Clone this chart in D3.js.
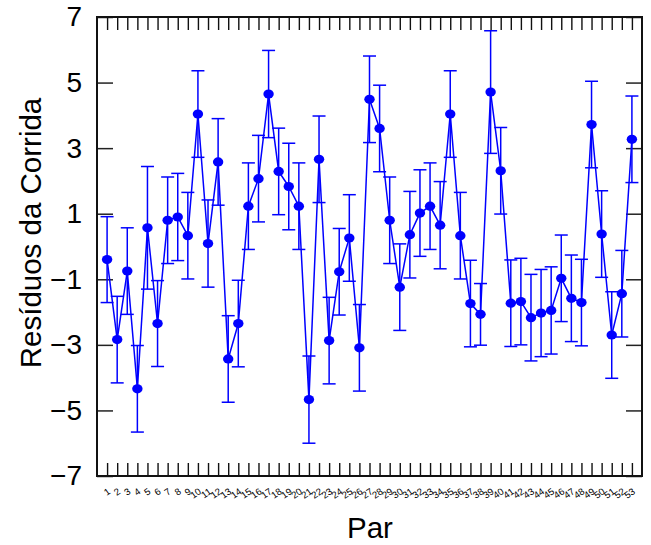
<!DOCTYPE html>
<html>
<head>
<meta charset="utf-8">
<script src="https://cdn.jsdelivr.net/npm/d3@7"></script>
<style>
body { margin: 0; background: #fff; }
svg { display: block; }
</style>
</head>
<body>
<div id="chart"></div>
<script>
// residuos por par, com barra de erro (+/-)
var pares = d3.range(1, 54);
var residuos = [-0.40, -2.84, -0.75, -4.34, 0.57, -2.35, 0.80, 0.90, 0.33, 4.04,
    0.09, 2.58, -3.43, -2.35, 1.23, 2.07, 4.65, 2.29, 1.83, 1.23,
    -4.67, 2.66, -2.87, -0.77, 0.26, -3.09, 4.49, 3.60, 0.80, -1.24,
    0.36, 1.02, 1.23, 0.65, 4.04, 0.33, -1.74, -2.07, 4.71, 2.31,
    -1.73, -1.68, -2.17, -2.03, -1.95, -0.97, -1.58, -1.71, 3.72, 0.38,
    -2.70, -1.44, 3.27];
var erros = [1.31, 1.32, 1.32, 1.32, 1.87, 1.31, 1.32, 1.33, 1.32, 1.32,
    1.33, 1.32, 1.32, 1.32, 1.32, 1.32, 1.33, 1.32, 1.32, 1.32,
    1.33, 1.32, 1.32, 1.32, 1.32, 1.32, 1.32, 1.32, 1.32, 1.32,
    1.32, 1.32, 1.32, 1.33, 1.32, 1.32, 1.32, 0.94, 1.87, 1.32,
    1.32, 1.32, 1.32, 1.33, 1.33, 1.32, 1.32, 1.32, 1.32, 1.32,
    1.32, 1.32, 1.32];
var yTicks = [-7, -5, -3, -1, 1, 3, 5, 7];

var W = 651, H = 545;
var margin = {left: 97, right: 9, top: 17, bottom: 69};
var azul = "#0000ff";
var fonte = "Liberation Sans, Arial, sans-serif";

var svg = d3.select("#chart").append("svg")
    .attr("width", W).attr("height", H);

var x = d3.scaleLinear().domain([0, 54]).range([margin.left, W - margin.right]);
var y = d3.scaleLinear().domain([-7, 7]).range([H - margin.bottom, margin.top]);

var dados = pares.map(function(p, i) {
    return {par: p, v: residuos[i], e: erros[i]};
});

// ticks do eixo x (embaixo e em cima, para dentro)
svg.append("g")
    .attr("transform", "translate(0," + y(-7) + ")")
    .call(d3.axisBottom(x).tickValues(pares).tickSize(-13).tickFormat(""))
    .call(function(g) { g.select(".domain").remove(); })
    .selectAll("line").attr("stroke", "#111").attr("stroke-width", 1.4);

svg.append("g")
    .attr("transform", "translate(0," + y(7) + ")")
    .call(d3.axisTop(x).tickValues(pares).tickSize(-13).tickFormat(""))
    .call(function(g) { g.select(".domain").remove(); })
    .selectAll("line").attr("stroke", "#111").attr("stroke-width", 1.4);

// rotulos pequenos e inclinados do eixo x
svg.append("g").selectAll("text")
    .data(pares)
    .enter().append("text")
    .attr("transform", function(d) { return "translate(" + (x(d) + 4) + "," + (y(-7) + 17) + ") rotate(-35)"; })
    .attr("text-anchor", "end")
    .attr("font-family", fonte)
    .attr("font-size", 9.5)
    .attr("fill", "#000")
    .text(function(d) { return d; });

// eixo y (esquerda com rotulos, direita so ticks)
var gy = svg.append("g")
    .attr("transform", "translate(" + x(0) + ",0)")
    .call(d3.axisLeft(y).tickValues(yTicks).tickSize(-16).tickPadding(15).tickFormat(d3.format("d")));
gy.select(".domain").remove();
gy.selectAll("line").attr("stroke", "#222").attr("stroke-width", 1.5);
gy.selectAll("text")
    .attr("font-family", fonte)
    .attr("font-size", 28)
    .attr("fill", "#000");

var gy2 = svg.append("g")
    .attr("transform", "translate(" + x(54) + ",0)")
    .call(d3.axisRight(y).tickValues(yTicks).tickSize(-16).tickFormat(""));
gy2.select(".domain").remove();
gy2.selectAll("line").attr("stroke", "#222").attr("stroke-width", 1.5);

// moldura
svg.append("rect")
    .attr("x", x(0)).attr("y", y(7))
    .attr("width", x(54) - x(0)).attr("height", y(-7) - y(7))
    .attr("fill", "none").attr("stroke", "#111").attr("stroke-width", 2);

// barras de erro
var barras = svg.append("g").attr("stroke", azul).attr("stroke-width", 1.5);
barras.selectAll(".v").data(dados).enter().append("line")
    .attr("x1", function(d) { return x(d.par); })
    .attr("x2", function(d) { return x(d.par); })
    .attr("y1", function(d) { return y(d.v + d.e); })
    .attr("y2", function(d) { return y(d.v - d.e); });
barras.selectAll(".t").data(dados).enter().append("line")
    .attr("x1", function(d) { return x(d.par) - 6.5; })
    .attr("x2", function(d) { return x(d.par) + 6.5; })
    .attr("y1", function(d) { return y(d.v + d.e); })
    .attr("y2", function(d) { return y(d.v + d.e); });
barras.selectAll(".b").data(dados).enter().append("line")
    .attr("x1", function(d) { return x(d.par) - 6.5; })
    .attr("x2", function(d) { return x(d.par) + 6.5; })
    .attr("y1", function(d) { return y(d.v - d.e); })
    .attr("y2", function(d) { return y(d.v - d.e); });

// linha ligando os pontos
var linha = d3.line()
    .x(function(d) { return x(d.par); })
    .y(function(d) { return y(d.v); });
svg.append("path").datum(dados)
    .attr("d", linha)
    .attr("fill", "none").attr("stroke", azul).attr("stroke-width", 1.5);

svg.append("g").selectAll("ellipse").data(dados).enter().append("ellipse")
    .attr("cx", function(d) { return x(d.par); })
    .attr("cy", function(d) { return y(d.v); })
    .attr("rx", 5.2).attr("ry", 4.6)
    .attr("fill", azul);

// titulos dos eixos
svg.append("text")
    .attr("transform", "translate(41,233) rotate(-90)")
    .attr("text-anchor", "middle")
    .attr("font-family", fonte)
    .attr("font-size", 29.5)
    .text("Resíduos da Corrida");

svg.append("text")
    .attr("x", 370)
    .attr("y", 538)
    .attr("text-anchor", "middle")
    .attr("font-family", fonte)
    .attr("font-size", 29.5)
    .text("Par");
</script>
</body>
</html>
